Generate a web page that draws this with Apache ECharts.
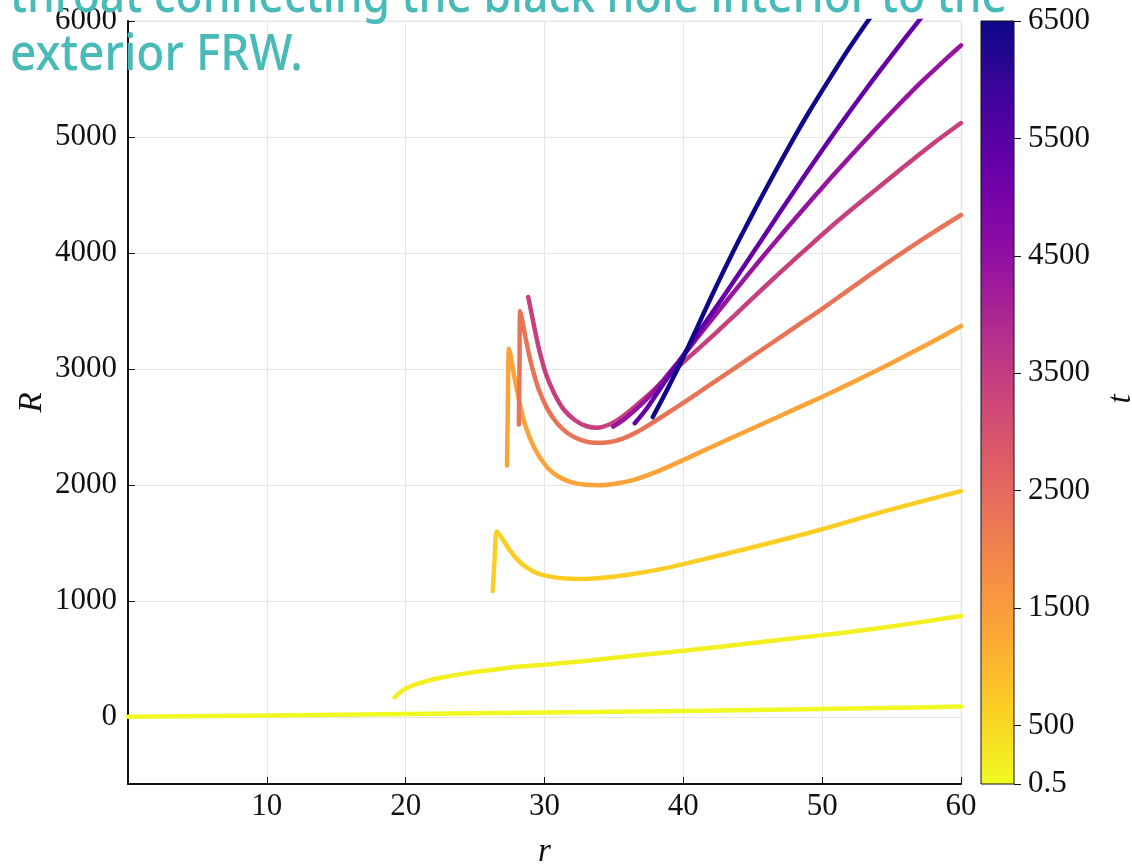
<!DOCTYPE html>
<html><head><meta charset="utf-8">
<script src="https://cdn.jsdelivr.net/npm/echarts@6/dist/echarts.min.js"></script>
<style>html,body{margin:0;padding:0;background:#fff}#c{width:1132px;height:865px}</style>
</head><body><div id="c"></div>
<script>
// ---- data ----
const titleLines = ["throat connecting the black hole interior to the", "exterior FRW."];
const colorbarName = "t";
const xTicks = [10, 20, 30, 40, 50, 60];
const yTicks = [0, 1000, 2000, 3000, 4000, 5000, 6000];
const cbTicks = [0.5, 500, 1500, 2500, 3500, 4500, 5500, 6500];
const tValues = [0.5, 150, 650, 1350, 2300, 3400, 4400, 5300, 6450];

const curveA = [[0,4],[10,16],[20,28],[30,41],[40,55],[50,71],[54.2,79],[60,92]];
const curveB = [[19.2,172],[19.5,205],[19.9,240],[20.5,275],[21.3,305],[22.5,340],[24,372],[25.5,398],[27.75,431],[30.15,454],[32.55,480],[36,525],[40,573],[45,640],[50,708],[54.2,770],[60,872]];
const curveC = [[26.27,1088],[26.4,1350],[26.55,1600],[26.75,1575],[27,1530],[27.5,1440],[28,1365],[28.6,1300],[29.4,1245],[30.4,1212],[31.5,1196],[32.5,1192],[34,1200],[36,1228],[38,1268],[40,1320],[45,1465],[50,1620],[54.2,1766],[60,1949]];
const curveD = [[27.3,2170],[27.35,2600],[27.44,3176],[27.55,3120],[27.8,2950],[28.1,2770],[28.5,2560],[29,2390],[29.6,2250],[30.3,2140],[31,2075],[31.8,2030],[32.8,2005],[34,2000],[35.2,2015],[36.5,2048],[38,2112],[39.5,2190],[41,2272],[42.5,2355],[44,2437],[46,2545],[48,2653],[50,2762],[52,2875],[54,2993],[56,3115],[58,3240],[60,3372]];
const curveE = [[28.15,2523],[28.2,3000],[28.25,3500],[28.4,3420],[28.7,3230],[29.1,3020],[29.6,2820],[30.2,2660],[30.9,2535],[31.7,2445],[32.6,2390],[33.6,2365],[34.6,2370],[35.6,2400],[36.7,2460],[38,2555],[39.5,2670],[41,2790],[42.5,2912],[44,3032],[46,3195],[48,3358],[50,3520],[52,3690],[54,3860],[56,4022],[58,4178],[60,4328]];
const curveF = [[28.83,3621],[28.95,3549],[29.2,3400],[29.6,3175],[30.1,2960],[30.7,2790],[31.4,2650],[32.2,2560],[33,2510],[33.8,2495],[34.7,2525],[35.6,2590],[36.6,2687],[37.6,2790],[38.6,2905],[40,3060],[41.5,3220],[43,3385],[44.5,3555],[46,3725],[47.5,3890],[49,4052],[50.5,4212],[52,4364],[53.5,4512],[55,4658],[56.5,4802],[58,4945],[60,5121]];
const curveG = [[34.95,2506],[35.7,2565],[36.5,2645],[37.3,2735],[38.1,2840],[39,2970],[40,3115],[41,3270],[42,3420],[43,3570],[44,3718],[45,3864],[46,4008],[47,4150],[48,4290],[49,4428],[50,4564],[51,4698],[52,4830],[53,4960],[54,5088],[55,5214],[56,5337],[57,5458],[58,5571],[59,5682],[60,5790]];
const curveH = [[36.5,2534],[37.3,2650],[38.1,2790],[39,2950],[40,3120],[41,3300],[42,3472],[43,3644],[44,3822],[45,4000],[46,4180],[47,4360],[48,4538],[49,4714],[50,4886],[51,5056],[52,5222],[53,5386],[54,5546],[55,5702],[56,5856],[57,6008],[57.5,6084]];
const curveI = [[37.8,2587],[38.5,2745],[39.2,2910],[40,3103],[41,3360],[42,3620],[43,3870],[44,4110],[45,4340],[46,4565],[47,4785],[48,5000],[49,5205],[50,5400],[51,5590],[52,5775],[53,5950],[54,6120]];
const curves = [curveA, curveB, curveC, curveD, curveE, curveF, curveG, curveH, curveI];

// ---- style ----
const plasma = ['#0d0887','#41049d','#6a00a8','#8f0da4','#b12a90','#cc4778','#e16462','#f2844b','#fca636','#fcce25','#f0f921'];
const T_MIN = 0.5, T_MAX = 6500;
function hex2rgb(h){return [1,3,5].map(i=>parseInt(h.substr(i,2),16));}
function plasmaAt(p){
  p = Math.max(0, Math.min(1, p));
  const f = p * (plasma.length - 1), i = Math.min(Math.floor(f), plasma.length - 2), w = f - i;
  const a = hex2rgb(plasma[i]), b = hex2rgb(plasma[i+1]);
  const c = a.map((v,k)=>Math.round(v + (b[k]-v)*w));
  return 'rgb(' + c.join(',') + ')';
}
function colorOfT(t){ return plasmaAt(1 - (t - T_MIN) / (T_MAX - T_MIN)); }

const serif = '"Liberation Serif", "Times New Roman", serif';
const teal = '#48bab7';
const titleFont = '500 50px "Noto Sans", "Open Sans", sans-serif';

const chart = echarts.init(document.getElementById('c'), null, {renderer: 'canvas'});

const lineSeries = curves.map((d, i) => ({
  type: 'line', xAxisIndex: 0, yAxisIndex: 0, data: d,
  showSymbol: false, symbol: 'none', smooth: 0.3,
  lineStyle: {width: 4.5, color: colorOfT(tValues[i]), cap: 'round', join: 'round'},
  itemStyle: {color: colorOfT(tValues[i])},
  clip: true, z: 2 + i
}));

const cbStops = plasma.map((c, i) => ({offset: i / (plasma.length - 1), color: c}));

chart.setOption({
  animation: false,
  backgroundColor: '#fff',
  grid: [
    {left: 128, right: 171, top: 21, height: 763, outerBoundsMode: 'none', containLabel: false,
     show: true, borderColor: '#e8e8e8', borderWidth: 1, backgroundColor: 'transparent'},
    {left: 981, width: 33, top: 21, height: 763, outerBoundsMode: 'none', containLabel: false,
     show: true, borderColor: '#111', borderWidth: 1, z: 5}
  ],
  xAxis: [
    {type: 'value', gridIndex: 0, min: 0, max: 60, interval: 10,
     name: 'r', nameLocation: 'middle', nameGap: 52, nameMoveOverlap: false,
     nameTextStyle: {fontFamily: serif, fontStyle: 'italic', fontSize: 33, color: '#111'},
     axisLine: {show: true, onZero: false, lineStyle: {color: '#111', width: 2}},
     axisTick: {show: true, inside: true, length: 7, lineStyle: {color: '#111', width: 1}},
     axisLabel: {fontFamily: serif, fontSize: 31, color: '#111', margin: 7,
       customValues: xTicks, formatter: v => String(v)},
     splitLine: {show: true, lineStyle: {color: '#e5e5e5', width: 1}}},
    {type: 'category', gridIndex: 1, data: ['t'], show: false, boundaryGap: true}
  ],
  yAxis: [
    {type: 'value', gridIndex: 0, min: -575, max: 6000,
     name: 'R', nameLocation: 'middle', nameGap: 79, nameRotate: 90, nameMoveOverlap: false,
     nameTextStyle: {fontFamily: serif, fontStyle: 'italic', fontSize: 33, color: '#111'},
     axisLine: {show: true, onZero: false, lineStyle: {color: '#111', width: 2}},
     axisTick: {show: true, inside: true, length: 7, customValues: yTicks, lineStyle: {color: '#111', width: 1}},
     axisLabel: {fontFamily: serif, fontSize: 31, color: '#111', margin: 11, customValues: yTicks,
       formatter: v => String(v)},
     splitLine: {show: true, lineStyle: {color: '#e5e5e5', width: 1}}},
    {type: 'value', gridIndex: 1, min: T_MIN, max: T_MAX, position: 'right',
     axisLine: {show: false},
     axisTick: {show: true, inside: false, length: 7, customValues: cbTicks, lineStyle: {color: '#111', width: 1}},
     axisLabel: {fontFamily: serif, fontSize: 31, color: '#111', margin: 14, customValues: cbTicks,
       formatter: v => String(v)},
     splitLine: {show: false}}
  ],
  series: lineSeries.concat([{
    type: 'bar', xAxisIndex: 1, yAxisIndex: 1, data: [T_MAX], barWidth: '100%', clip: true,
    itemStyle: {color: new echarts.graphic.LinearGradient(0, 0, 0, 1, cbStops)},
    silent: true, z: 1
  }]),
  graphic: [
    {type: 'text', left: 10, top: -27, z: 100, scaleX: 0.888,
     style: {text: titleLines[0], fill: teal, font: titleFont}},
    {type: 'text', left: 10, top: 31, z: 100, scaleX: 0.92,
     style: {text: titleLines[1], fill: teal, font: titleFont}},
    {type: 'text', x: 1121, y: 399, rotation: Math.PI / 2, z: 100,
     style: {text: colorbarName, fill: '#111', font: 'italic 33px ' + serif,
       textAlign: 'center', textVerticalAlign: 'middle', align: 'center', verticalAlign: 'middle'}}
  ]
});
</script>
</body></html>
